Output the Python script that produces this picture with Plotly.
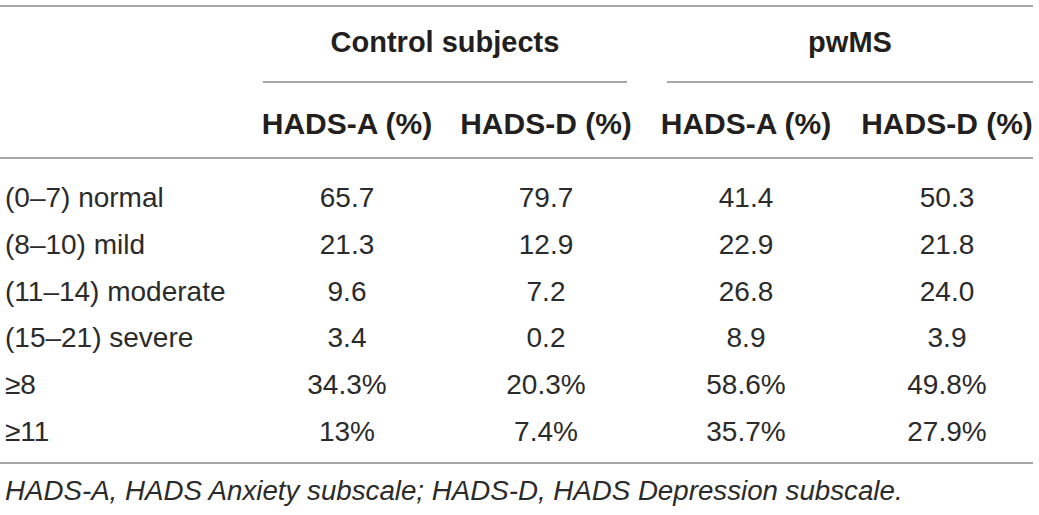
import plotly.graph_objects as go

# table content
groups = ["Control subjects", "pwMS"]
col_heads = ["HADS-A (%)", "HADS-D (%)", "HADS-A (%)", "HADS-D (%)"]
row_labels = ["(0–7) normal", "(8–10) mild", "(11–14) moderate", "(15–21) severe", "≥8", "≥11"]
ctrl_a = ["65.7", "21.3", "9.6", "3.4", "34.3%", "13%"]
ctrl_d = ["79.7", "12.9", "7.2", "0.2", "20.3%", "7.4%"]
pwms_a = ["41.4", "22.9", "26.8", "8.9", "58.6%", "35.7%"]
pwms_d = ["50.3", "21.8", "24.0", "3.9", "49.8%", "27.9%"]
footnote = "HADS-A, HADS Anxiety subscale; HADS-D, HADS Depression subscale."

W, H = 1039, 515
col_x = [347, 546, 746, 947]
group_x = [445, 850]
row_y = [200 + 46.8 * i for i in range(len(row_labels))]
txt = "#231f20"
body = "#2b2b2b"
rule = "#8a8a8a"
fnt = "Liberation Sans"

fig = go.Figure()

# group headers
fig.add_trace(go.Scatter(x=group_x, y=[45, 45], mode="text", text=groups,
                         textposition="middle center",
                         textfont=dict(family=fnt, size=29, color=txt, weight="bold")))
# column headers
fig.add_trace(go.Scatter(x=col_x, y=[126] * 4, mode="text", text=col_heads,
                         textposition="middle center",
                         textfont=dict(family=fnt, size=30, color=txt, weight="bold")))
# row labels
fig.add_trace(go.Scatter(x=[5] * len(row_labels), y=row_y, mode="text", text=row_labels,
                         textposition="middle right",
                         textfont=dict(family=fnt, size=28, color=body)))
# values
for cx, col in zip(col_x, [ctrl_a, ctrl_d, pwms_a, pwms_d]):
    fig.add_trace(go.Scatter(x=[cx] * len(col), y=row_y, mode="text", text=col,
                             textposition="middle center",
                             textfont=dict(family=fnt, size=28, color=body)))
# footnote
fig.add_trace(go.Scatter(x=[5], y=[493], mode="text", text=[footnote],
                         textposition="middle right",
                         textfont=dict(family=fnt, size=27.7, color=body, style="italic")))

# rules
for x0, x1, y in [(0, 1033, 6), (263, 627, 82), (667, 1033, 82), (0, 1033, 158), (0, 1033, 463)]:
    fig.add_shape(type="line", x0=x0, x1=x1, y0=y, y1=y, xref="x", yref="y",
                  line=dict(color=rule, width=1.5))

fig.update_layout(
    width=W, height=H, margin=dict(l=0, r=0, t=0, b=0),
    paper_bgcolor="white", plot_bgcolor="white", showlegend=False,
    hovermode=False,
    xaxis=dict(range=[0, W], visible=False, fixedrange=True),
    yaxis=dict(range=[H, 0], visible=False, fixedrange=True),
)
# drop the page's default body margin so the figure sits at the window corner
fig.write_html("out.html", config={"displayModeBar": False},
               post_script="document.body.style.margin='0';")
